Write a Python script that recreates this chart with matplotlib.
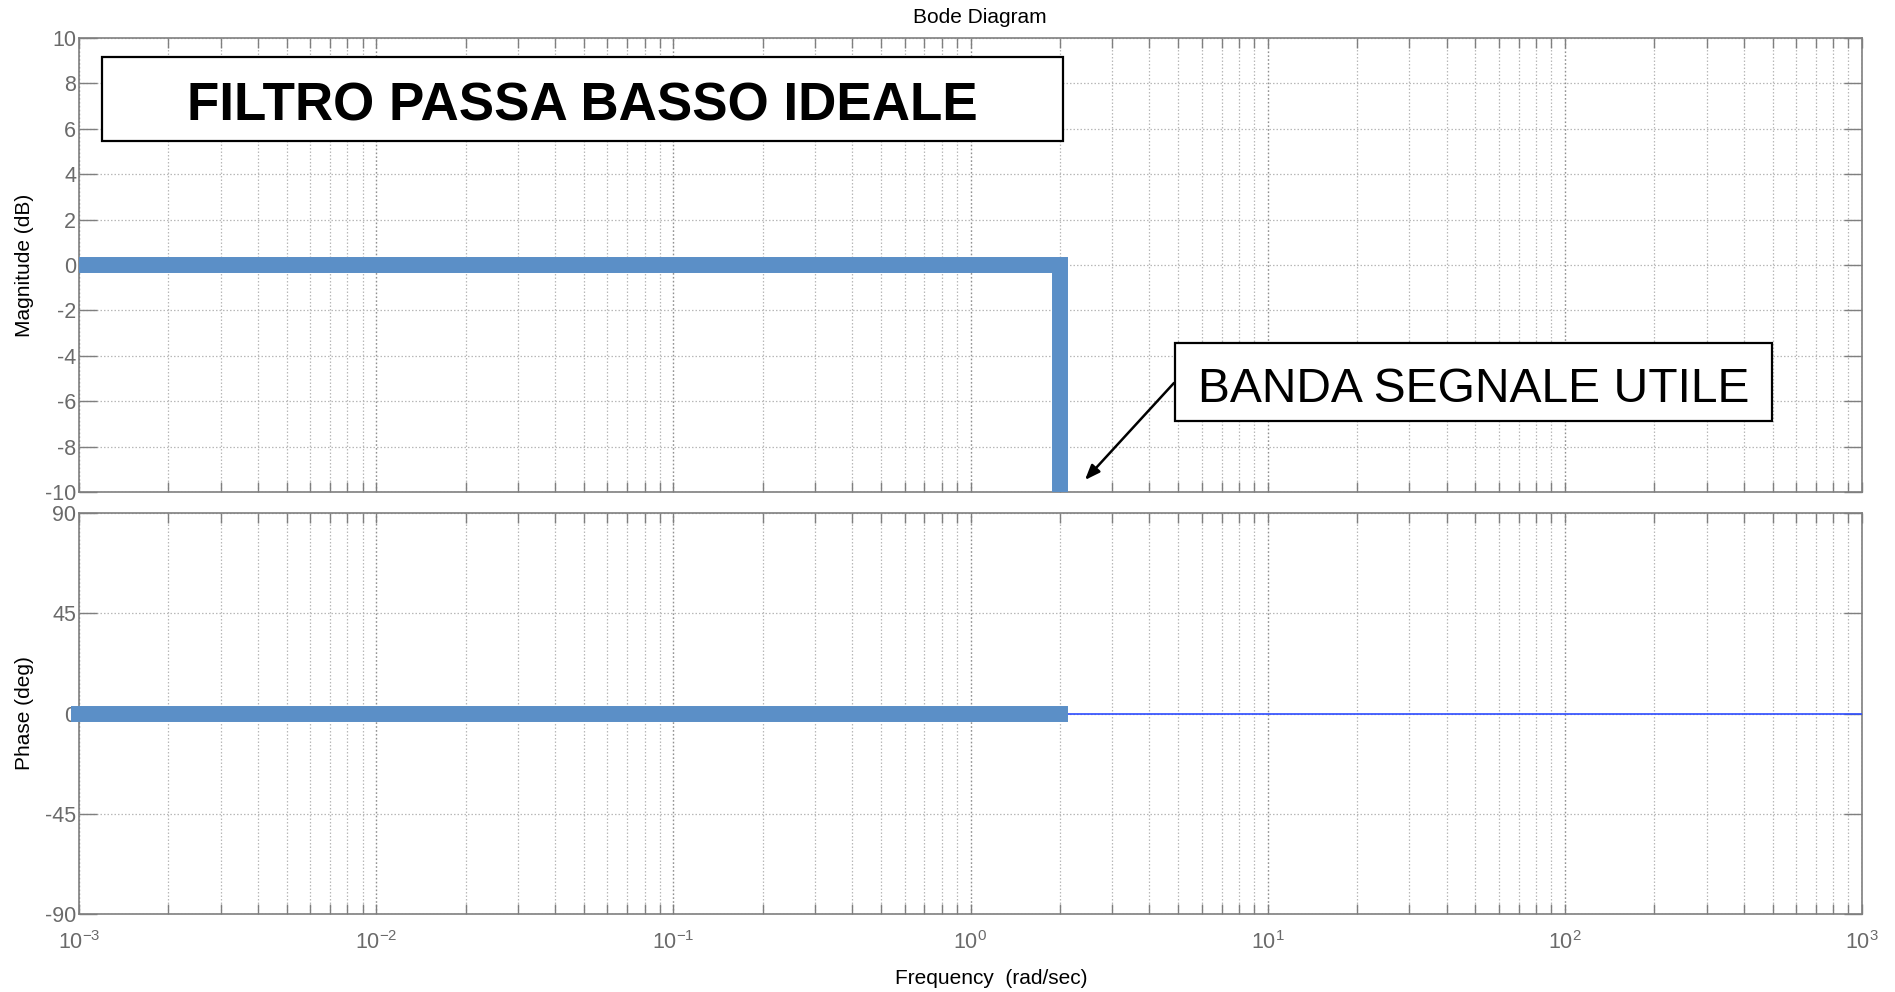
import math
import matplotlib
matplotlib.use("Agg")
import matplotlib.pyplot as plt
from matplotlib.ticker import LogLocator, FuncFormatter, NullFormatter, FixedLocator
from matplotlib.patches import Rectangle

plt.rcParams['font.family'] = ['Liberation Sans', 'DejaVu Sans']
plt.rcParams['mathtext.fontset'] = 'custom'
plt.rcParams['mathtext.rm'] = 'Liberation Sans'
plt.rcParams['mathtext.it'] = 'Liberation Sans:italic'
plt.rcParams['mathtext.bf'] = 'Liberation Sans:bold'
plt.rcParams['axes.unicode_minus'] = False

# --- data -----------------------------------------------------------------
freq_range = [1e-3, 1e3]                 # rad/sec
cutoff = 2.0                             # rad/sec, edge of the pass band
mag_freq = [1e-3, cutoff, cutoff]        # ideal magnitude: flat then vertical drop
mag_db = [0.0, 0.0, -10.0]
pass_phase_freq = [1e-3, cutoff]         # phase across the pass band
pass_phase_deg = [0.0, 0.0]
full_phase_freq = [1e-3, 1e3]            # computed phase over the whole range
full_phase_deg = [0.0, 0.0]
mag_ticks = [-10, -8, -6, -4, -2, 0, 2, 4, 6, 8, 10]
phase_ticks = [-90, -45, 0, 45, 90]

# --- styles -----------------------------------------------------------------
THICK = '#5b8fc7'
THIN = '#2d4cff'
SPINE = '#7f7f7f'
TICKTXT = '#6a6a6a'
GRID_MIN = '#b8b8b8'
GRID_MAJ = '#909090'
DOT = (0, (1.2, 1.6))

fig = plt.figure(figsize=(18.95, 9.92), dpi=100)
L, R = 79 / 1895, 1862 / 1895
ax_mag = fig.add_axes([L, 1 - 492 / 992, R - L, (492 - 38) / 992])
ax_ph = fig.add_axes([L, 1 - 914 / 992, R - L, (914 - 513) / 992])


def decade_label(v, pos):
    e = int(round(math.log10(v)))
    return r'$\mathregular{10^{%d}}$' % e


for ax in (ax_mag, ax_ph):
    ax.set_xscale('log')
    ax.set_xlim(*freq_range)
    ax.xaxis.set_major_locator(LogLocator(base=10, numticks=20))
    ax.xaxis.set_minor_locator(LogLocator(base=10, subs=range(2, 10), numticks=20))
    ax.xaxis.set_minor_formatter(NullFormatter())
    ax.grid(True, which='minor', axis='x', color=GRID_MIN, linestyle=DOT, linewidth=0.9)
    ax.grid(True, which='major', axis='x', color=GRID_MAJ, linestyle=DOT, linewidth=1.0)
    ax.grid(True, which='major', axis='y', color=GRID_MIN, linestyle=DOT, linewidth=0.9)
    ax.set_axisbelow(True)
    for s in ax.spines.values():
        s.set_color(SPINE)
        s.set_linewidth(1.2)
    ax.tick_params(axis='both', which='both', direction='in', top=True, right=True,
                   color=SPINE, labelcolor=TICKTXT, labelsize=15.5)
    ax.tick_params(axis='x', which='both', length=7, width=1)
    ax.tick_params(axis='y', which='major', length=13, width=1, pad=2)
    ax.tick_params(axis='x', which='major', pad=12)

# magnitude panel
ax_mag.set_ylim(-10, 10)
ax_mag.yaxis.set_major_locator(FixedLocator(mag_ticks))
ax_mag.tick_params(axis='x', which='both', labelbottom=False)
ax_mag.plot(mag_freq, mag_db, color=THICK, linewidth=11.5,
            solid_joinstyle='miter', solid_capstyle='butt', clip_on=False, zorder=5)
ax_mag.set_ylabel('Magnitude (dB)', fontsize=15, color='black')
ax_mag.set_title('Bode Diagram', fontsize=15, pad=11, x=0.505)

# phase panel
ax_ph.set_ylim(-90, 90)
ax_ph.yaxis.set_major_locator(FixedLocator(phase_ticks))
ax_ph.xaxis.set_major_formatter(FuncFormatter(decade_label))
ax_ph.plot(full_phase_freq, full_phase_deg, color=THIN, linewidth=1.2, zorder=4)
ax_ph.plot(pass_phase_freq, pass_phase_deg, color=THICK, linewidth=11.5,
           solid_capstyle='projecting', clip_on=False, zorder=5)
ax_ph.set_ylabel('Phase (deg)', fontsize=15, color='black')
ax_ph.set_xlabel('Frequency  (rad/sec)', fontsize=15, color='black')
ax_ph.xaxis.set_label_coords(0.5115, -0.137)

# both y labels share one column
for ax in (ax_mag, ax_ph):
    ax.yaxis.set_label_coords(-0.025, 0.5)

# title box
ax_mag.add_patch(Rectangle((0.0129, 0.773), 0.5519 - 0.0129, 0.958 - 0.773,
                           transform=ax_mag.transAxes, facecolor='white',
                           edgecolor='black', linewidth=1.6, zorder=6, clip_on=False))
ax_mag.text((0.0129 + 0.5519) / 2, 0.818, 'FILTRO PASSA BASSO IDEALE',
            transform=ax_mag.transAxes, ha='center', va='baseline',
            fontsize=38.2, fontweight='bold', color='black', zorder=7)

# pass-band callout
ax_mag.add_patch(Rectangle((0.6147, 0.1564), 0.9495 - 0.6147, 0.3282 - 0.1564,
                           transform=ax_mag.transAxes, facecolor='white',
                           edgecolor='black', linewidth=1.6, zorder=6, clip_on=False))
ax_mag.text((0.6147 + 0.9495) / 2, 0.199, 'BANDA SEGNALE UTILE',
            transform=ax_mag.transAxes, ha='center', va='baseline',
            fontsize=34.6, color='black', zorder=7)
ax_mag.annotate('', xy=(0.5642, 0.0264), xytext=(0.6141, 0.2401),
                xycoords='axes fraction', textcoords='axes fraction',
                arrowprops=dict(arrowstyle='-|>,head_length=0.9,head_width=0.35',
                                color='black', linewidth=1.8,
                                shrinkA=0, shrinkB=0), zorder=7)

fig.savefig('out.png', dpi=100, facecolor='white')
